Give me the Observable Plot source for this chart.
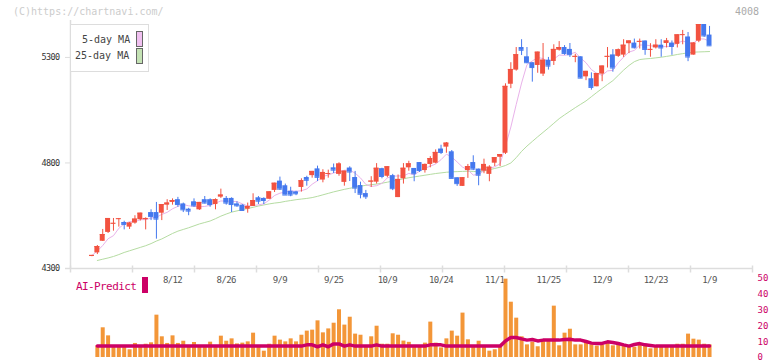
<!DOCTYPE html>
<html><head><meta charset="utf-8">
<script src="https://cdn.jsdelivr.net/npm/d3@7"></script>
<script src="https://cdn.jsdelivr.net/npm/@observablehq/plot@0.6"></script>
<style>
body{margin:0;background:#fff;}
#wrap{position:relative;width:772px;height:361px;font-family:"DejaVu Sans Mono",monospace;overflow:hidden;}
#main,#sub{position:absolute;left:0;}
#main{top:0}
#sub{top:270px}
.t{position:absolute;white-space:nowrap;line-height:1;}
.sw{position:absolute;width:5px;border:1px solid #666;}
</style></head><body>
<div id="wrap">
 <div id="main"></div>
 <div id="sub"></div>
 <div class="t" style="left:13px;top:7px;font-size:10px;color:#ccc">(C)https://chartnavi.com/</div>
 <div class="t" style="left:735px;top:7px;font-size:10px;color:#aaa">4008</div>
 <div style="position:absolute;left:70px;top:24px;width:77px;height:46px;border:1px solid #ddd;background:#fff"></div>
 <div class="t" style="left:82px;top:35px;font-size:10px;color:#444">5-day MA</div>
 <div class="t" style="left:75px;top:51px;font-size:10px;color:#444">25-day MA</div>
 <div class="sw" style="left:136px;top:31px;height:14px;background:#f0c0f0"></div>
 <div class="sw" style="left:136px;top:48px;height:14px;background:#c4e2b4"></div>
 <div class="t" style="left:76px;top:281px;font-size:11px;letter-spacing:-0.6px;color:#cc0066">AI-Predict</div>
 <div style="position:absolute;left:142px;top:277px;width:6px;height:16px;background:#cc0066"></div>
</div>
<script>
const open = [
4358,4374,4429,4471,4512,4534,4518,4496,4515,4531,
4531,4565,4565,4562,4600,4613,4626,4606,4581,4616,
4578,4626,4626,4603,4638,4632,4632,4606,4600,4581,
4594,4635,4632,4628,4670,4714,4692,4666,4663,4684,
4731,4740,4772,4719,4748,4777,4746,4708,4776,4731,
4693,4655,4710,4709,4773,4737,4740,4636,4725,4777,
4774,4802,4764,4793,4799,4866,4875,4853,4730,4689,
4764,4802,4771,4761,4746,4799,4827,4846,5173,5240,
5347,5303,5275,5262,5221,5287,5281,5334,5347,5338,
5302,5303,5208,5199,5161,5221,5302,5312,5305,5311,
5365,5368,5374,5378,5336,5345,5358,5366,5368,5362,
5406,5397,5311,5377,5456,5406];
const high = [
4362,4409,4485,4537,4537,4537,4524,4518,4550,4562,
4540,4578,4613,4603,4626,4630,4637,4610,4585,4630,
4613,4641,4630,4630,4676,4641,4635,4616,4603,4610,
4654,4641,4635,4663,4704,4733,4700,4685,4666,4725,
4737,4760,4785,4768,4766,4795,4801,4761,4782,4760,
4709,4670,4735,4797,4775,4782,4746,4743,4797,4808,
4774,4802,4795,4830,4862,4884,4897,4859,4730,4730,
4793,4834,4771,4818,4787,4825,4840,5175,5275,5347,
5384,5347,5275,5325,5366,5300,5360,5375,5356,5366,
5315,5303,5234,5227,5224,5259,5347,5337,5340,5384,
5378,5387,5387,5378,5365,5384,5384,5390,5378,5407,
5428,5418,5370,5456,5456,5447];
const low = [
4356,4366,4428,4466,4477,4496,4483,4485,4510,4525,
4483,4527,4439,4527,4575,4600,4590,4565,4550,4590,
4575,4606,4590,4578,4632,4600,4565,4590,4572,4562,
4594,4603,4603,4628,4660,4670,4648,4640,4645,4662,
4690,4728,4712,4706,4728,4750,4737,4690,4712,4655,
4630,4627,4684,4700,4725,4730,4669,4636,4700,4761,
4711,4755,4752,4777,4796,4840,4846,4727,4689,4689,
4727,4764,4692,4749,4711,4783,4783,4840,5152,5235,
5309,5270,5183,5225,5210,5240,5262,5330,5310,5300,
5275,5200,5190,5145,5161,5185,5250,5230,5300,5300,
5318,5340,5340,5310,5301,5340,5301,5345,5310,5345,
5360,5280,5311,5370,5395,5355];
const close = [
4362,4404,4461,4537,4514,4536,4509,4515,4534,4562,
4537,4546,4534,4603,4610,4622,4603,4578,4572,4597,
4613,4610,4603,4626,4648,4610,4603,4597,4575,4594,
4622,4619,4622,4663,4704,4676,4648,4648,4654,4716,
4718,4760,4732,4755,4750,4766,4795,4761,4757,4681,
4652,4640,4714,4775,4736,4782,4678,4722,4775,4796,
4749,4764,4793,4821,4850,4850,4894,4727,4702,4730,
4783,4771,4742,4793,4780,4825,4840,5163,5243,5313,
5334,5275,5252,5325,5287,5259,5338,5347,5319,5313,
5305,5202,5234,5158,5224,5259,5305,5250,5336,5358,
5378,5346,5376,5338,5338,5358,5345,5378,5352,5407,
5408,5302,5368,5456,5402,5355];
const ma25 = [null,
4338,4344,4350,4357,4366,4376,4384,4392,4400,4408,
4418,4430,4440,4453,4466,4477,4485,4493,4502,4511,
4518,4525,4536,4548,4558,4567,4573,4579,4584,4590,
4596,4601,4606,4610,4613,4618,4622,4626,4629,4632,
4636,4642,4649,4656,4663,4669,4675,4680,4685,4690,
4694,4697,4700,4704,4709,4714,4720,4725,4730,4734,
4738,4742,4746,4750,4753,4756,4758,4759,4760,4761,
4760,4758,4762,4768,4774,4780,4788,4800,4825,4855,
4880,4902,4924,4945,4966,4988,5010,5028,5045,5062,
5078,5094,5114,5134,5153,5172,5190,5215,5240,5262,
5280,5290,5293,5295,5298,5301,5305,5309,5314,5318,
5322,5325,5326,5327,5328];
const volume = [null,
7.4,18.8,13.7,7.2,7.2,7.2,4.9,8.9,7.4,8.4,
9.3,26.8,13.1,8.9,13.7,8.9,10.3,7.2,9.5,7.2,
7.2,9.7,7.2,13.5,10.3,11.8,8.6,9.1,9.9,15.4,
6.5,4.0,8.4,13.5,11.0,9.9,11.8,9.9,14.1,16.7,
17.3,23.2,15.6,18.1,21.7,30.2,20.5,25.5,14.8,14.1,
7.2,13.1,19.8,8.4,8.4,15.0,14.1,10.4,9.6,7.2,
7.2,9.1,22.4,9.1,6.1,11.8,16.7,13.5,28.1,11.2,
7.2,10.3,7.2,4.0,4.9,6.8,49.6,35.0,24.9,13.1,
8.0,9.7,6.8,10.1,10.1,32.5,7.4,15.4,17.9,8.0,
8.0,9.5,8.0,7.2,8.0,9.1,7.4,8.4,7.2,6.8,
6.5,8.0,7.2,5.5,7.2,7.2,7.2,7.2,8.4,8.4,
14.8,11.6,11.0,8.4,8.0];
const aiPredict = [null,
7.2,7.2,7.2,7.2,7.2,7.2,7.2,7.2,7.2,7.2,
7.2,7.2,7.2,7.2,7.2,7.2,7.2,7.2,7.2,7.2,
7.2,7.2,7.2,7.2,7.2,7.2,7.2,7.2,7.2,7.2,
7.2,7.2,7.2,7.2,7.2,7.2,7.2,7.2,7.2,8.0,
8.0,6.8,8.0,6.8,8.6,8.6,7.2,8.0,7.2,7.2,
7.2,7.2,8.0,7.2,7.2,7.2,7.2,7.2,7.2,7.2,
7.2,7.2,8.0,8.0,8.0,7.2,7.2,7.2,7.2,7.2,
7.2,7.2,7.2,7.2,7.2,7.2,10.5,12.7,12.7,11.8,
11.0,11.4,10.5,11.0,11.0,11.0,11.0,11.4,11.6,11.0,
11.0,10.1,9.1,8.9,8.9,9.9,9.5,8.9,8.0,7.2,
8.2,8.8,8.0,7.6,7.2,7.2,7.2,7.2,7.2,7.2,
7.2,7.2,7.2,7.2,7.2];
const dateLabels = ["8/12","8/26","9/9","9/25","10/9","10/24","11/1","11/25","12/9","12/23","1/9"];
const dateIndex = [15,25,35,45,55,65,75,85,95,105,115];
const priceTicks = [4300,4800,5300];
const aiTicks = [0,10,20,30,40,50];

const RED = "#f25240", BLUE = "#4478ee";
const candles = open.map((o,i) => ({i, o, h: high[i], l: low[i], c: close[i]}));
const up = candles.filter(d => d.c >= d.o);
const down = candles.filter(d => d.c < d.o);
const ma25Data = ma25.map((v,i) => ({i, v})).filter(d => d.v != null);
const volData = volume.map((v,i) => ({i, v})).filter(d => d.v != null);
const aiData = aiPredict.map((v,i) => ({i, v})).filter(d => d.v != null);
const xDomain = [-4, 123];
const gridTicks = d3.range(12).map(k => xDomain[0] + k * (xDomain[1] - xDomain[0]) / 11);
const W = 0.46;

function candleMarks(data, color) {
  return [
    Plot.ruleX(data, {x: "i", y1: "l", y2: "h", stroke: color, strokeWidth: 1}),
    Plot.rect(data, {x1: d => d.i - W, x2: d => d.i + W, y1: "o", y2: "c", fill: color}),
    Plot.ruleY(data, {x1: d => d.i - W, x2: d => d.i + W, y: "c", stroke: color, strokeWidth: 1})
  ];
}

const main = Plot.plot({
  width: 772, height: 290,
  marginLeft: 70, marginRight: 20, marginTop: 20, marginBottom: 22,
  x: {domain: xDomain, axis: null},
  y: {domain: [4300, 5475], axis: null},
  style: {fontFamily: "DejaVu Sans Mono, monospace", background: "transparent", letterSpacing: "-0.6px"},
  marks: [
    Plot.ruleX([xDomain[0]], {stroke: "#ddd", strokeWidth: 1.5}),
    Plot.ruleY([priceTicks[0]], {stroke: "#ddd", strokeWidth: 1.5, insetLeft: -5}),
    Plot.ruleX(gridTicks, {x: d => d, y1: priceTicks[0], y2: priceTicks[0], insetTop: -2.5, insetBottom: -4.5, stroke: "#ddd", strokeWidth: 1.5}),
    Plot.ruleY(priceTicks, {y: d => d, x1: xDomain[0], x2: xDomain[0], insetLeft: -5, stroke: "#ddd"}),
    Plot.text(priceTicks, {y: d => d, frameAnchor: "left", text: d => String(d), textAnchor: "end", dx: -11, fontSize: 8.5, fill: "#333"}),
    Plot.text(dateLabels, {x: (d, k) => dateIndex[k], frameAnchor: "bottom", text: d => d, dy: 14, fontSize: 9, fill: "#555"}),
    Plot.line(ma25Data, {x: "i", y: "v", stroke: "#b5dca2", strokeWidth: 1}),
    Plot.lineY(candles, Plot.windowY({k: 5, anchor: "end", reduce: "mean"}, {x: "i", y: "c", stroke: "#e9b2ea", strokeWidth: 1})),
    ...candleMarks(up, RED),
    ...candleMarks(down, BLUE)
  ]
});
document.getElementById("main").appendChild(main);

const sub = Plot.plot({
  width: 772, height: 91,
  marginLeft: 70, marginRight: 20, marginTop: 8, marginBottom: 4,
  x: {domain: xDomain, axis: null},
  y: {domain: [0, 50], axis: null},
  style: {fontFamily: "DejaVu Sans Mono, monospace", background: "transparent"},
  marks: [
    Plot.ruleX(volData, {x: "i", y1: 0, y2: "v", stroke: "#f39638", strokeWidth: 4}),
    Plot.line(aiData, {x: "i", y: "v", stroke: "#cc0066", strokeWidth: 3.5}),
    Plot.text(aiTicks, {y: d => d, frameAnchor: "right", text: d => String(d), textAnchor: "start", dx: 5, fontSize: 9, fill: "#cc0066"})
  ]
});
document.getElementById("sub").appendChild(sub);
</script>
</body></html>
